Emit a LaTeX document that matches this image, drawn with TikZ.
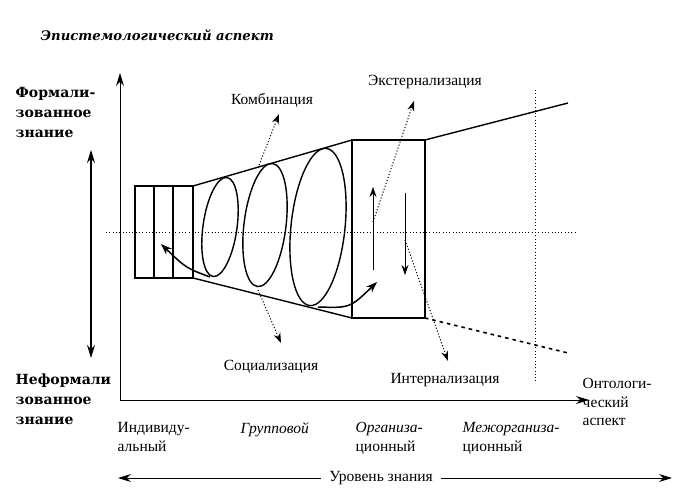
\documentclass[tikz,border=0pt]{standalone}
\usepackage{fontspec}
\setmainfont{Liberation Serif}
\newfontfamily\headfont{DejaVu Serif}
\usepackage{tikz}
\usetikzlibrary{shapes.geometric, arrows, arrows.meta}
\tikzstyle{arrow} = [line width=1.1pt,->,>={Stealth[length=13pt,width=8pt]}]
\tikzstyle{dotarrow} = [line width=1pt,dash pattern=on 1.1pt off 2pt,->,>={Stealth[length=10pt,width=7pt]}]
\tikzstyle{guide} = [line width=0.9pt,dash pattern=on 1pt off 2.3pt]
\tikzstyle{lbl} = [font=\fontsize{15.5}{18.5}\selectfont, align=left]
\tikzstyle{bold lbl} = [font=\headfont\bfseries\fontsize{14}{20}\selectfont, align=left]

\begin{document}
\begin{tikzpicture}[x=1pt, y=-1pt, line width=1.4pt, every node/.style={inner sep=0pt}]
        \useasboundingbox (0,0) rectangle (683,503);

        % Axes
        \coordinate (O) at (120,400);
        \coordinate (Y) at (120,73);
        \coordinate (X) at (589,400);
        \draw[arrow, line width=1pt] (O) -- (Y);
        \draw[arrow, line width=1pt] (O) -- (X);

        % Dotted guides
        \coordinate (H1) at (106,232);
        \coordinate (H2) at (576,232);
        \coordinate (V1) at (535,90);
        \coordinate (V2) at (535,382);
        \draw[guide] (H1) -- (H2);
        \draw[guide] (V1) -- (V2);

        % Left box
        \coordinate (A) at (135,186);
        \coordinate (B) at (193,186);
        \coordinate (C) at (193,278);
        \coordinate (D) at (135,278);
        \draw (A) rectangle (C);
        \foreach \x in {154,173}
          \draw (\x,186) -- (\x,278);

        % Cone and right box
        \coordinate (E) at (352,140);
        \coordinate (F) at (352,318);
        \coordinate (G) at (425,140);
        \coordinate (H) at (425,318);
        \coordinate (T) at (568,103);
        \coordinate (S) at (568,353);
        \draw (B) -- (E);
        \draw (C) -- (F);
        \draw (E) rectangle (H);
        \draw (G) -- (T);
        \draw[line width=1.6pt, dash pattern=on 3.5pt off 4pt] (H) -- (S);

        % Spiral
        \draw[rotate around={-8:(220,227)}] (220,227) ellipse (17pt and 50pt);
        \draw[rotate around={-7:(265,225)}] (265,225) ellipse (21pt and 62pt);
        \draw[rotate around={-6:(318,227)}] (318,227) ellipse (27pt and 79pt);
        \coordinate (S1) at (210,277);
        \coordinate (P1) at (161,244);
        \coordinate (S2) at (318,307);
        \coordinate (P2) at (377,282);
        \draw[arrow, line width=1.5pt, >={Stealth[length=11pt,width=8pt]}] (S1) .. controls (186,268) .. (P1);
        \draw[arrow, line width=1.5pt, >={Stealth[length=11pt,width=8pt]}] (S2) .. controls (350,308) .. (P2);

        % Inner arrows
        \coordinate (U1) at (373,270);
        \coordinate (U2) at (373,187);
        \coordinate (W1) at (405,193);
        \coordinate (W2) at (405,275);
        \draw[arrow, line width=0.8pt, >={Stealth[length=10pt,width=7pt]}] (U1) -- (U2);
        \draw[arrow, line width=0.8pt, >={Stealth[length=10pt,width=7pt]}] (W1) -- (W2);

        % Double arrows
        \coordinate (K1) at (91,150);
        \coordinate (K2) at (91,358);
        \draw[arrow, <->, line width=1.3pt] (K1) -- (K2);
        \coordinate (L1) at (118,478);
        \coordinate (L2) at (672,478);

        % Labels
        \node[font=\headfont\bfseries\itshape\fontsize{13.2}{17}\selectfont, anchor=west] (title) at (40,35) {Эпистемологический аспект};
        \node[bold lbl, anchor=north west] (form) at (15,87) {Формали-\\зованное\\знание};
        \node[bold lbl, anchor=north west] (inform) at (15,373) {Неформали\\зованное\\знание};

        \node[lbl] (comb) at (272,100) {Комбинация};
        \node[lbl] (ext) at (425,82) {Экстернализация};
        \node[lbl] (soc) at (271,367) {Социализация};
        \node[lbl] (int) at (445,380) {Интернализация};

        \node[lbl, anchor=north west] (ind) at (117,422) {Индивиду-\\альный};
        \node[lbl, anchor=north west] (grp) at (240,422) {\itshape Групповой};
        \node[lbl, anchor=north west] (org) at (355,422) {\itshape Организа-\\ционный};
        \node[lbl, anchor=north west] (morg) at (462,422) {\itshape Межорганиза-\\ционный};
        \node[lbl, anchor=north west] (onto) at (582,378) {Онтологи-\\ческий\\аспект};
        \node[lbl] (lvl) at (381,478) {Уровень знания};

        % Dotted arrows
        \coordinate (c1) at (258,168);
        \coordinate (c2) at (279,114);
        \coordinate (s1) at (258,290);
        \coordinate (s2) at (281,343);
        \coordinate (e1) at (373,222);
        \coordinate (e2) at (414,101);
        \coordinate (i1) at (405,240);
        \coordinate (i2) at (448,361);
        \draw[dotarrow] (c1) -- (c2);
        \draw[dotarrow] (s1) -- (s2);
        \draw[dotarrow] (e1) -- (e2);
        \draw[dotarrow] (i1) -- (i2);

        \draw[arrow, line width=1pt] (lvl.west) ++(-8,0) -- (L1);
        \draw[arrow, line width=1pt] (lvl.east) ++(8,0) -- (L2);
\end{tikzpicture}
\end{document}
